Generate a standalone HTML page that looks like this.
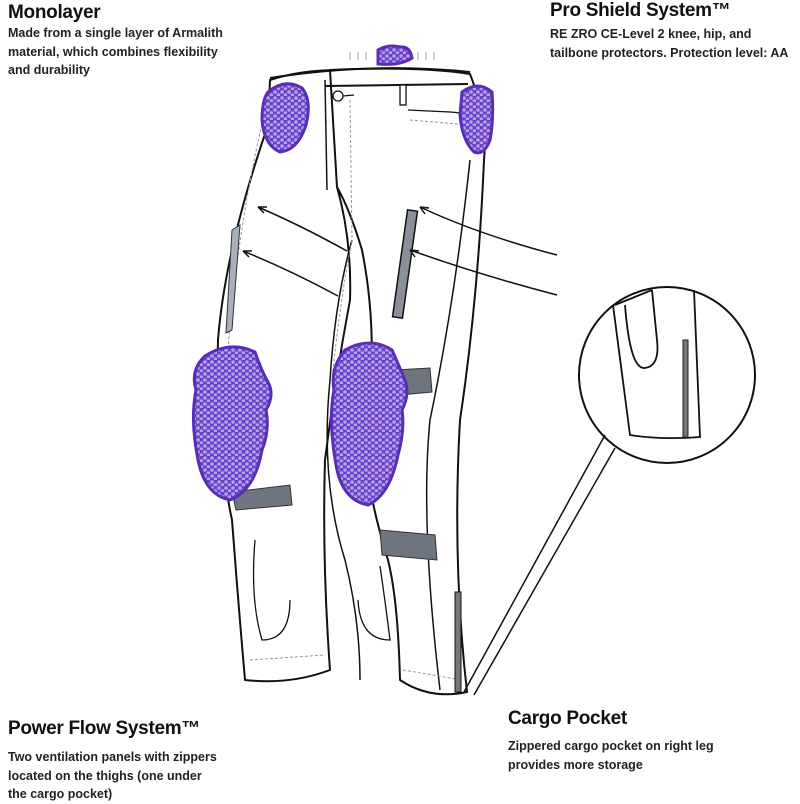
<!DOCTYPE html>
<html><head><meta charset="utf-8"><style>
body{margin:0;background:#fff;width:800px;height:800px;overflow:hidden;position:relative;font-family:"Liberation Sans",sans-serif;color:#111}
.h{position:absolute;font-weight:bold;font-size:19px;letter-spacing:-0.3px}
.p{position:absolute;font-size:12.5px;line-height:18.5px;font-weight:bold;color:#222}
svg{position:absolute;left:0;top:0}
</style></head><body>
<svg width="800" height="800" viewBox="0 0 800 800">
<defs>
<pattern id="dots" width="7" height="6" patternUnits="userSpaceOnUse">
<rect width="7" height="6" fill="#6a42c8"/>
<circle cx="2" cy="2" r="1.8" fill="#b7a2ea"/><circle cx="5.5" cy="5" r="1.8" fill="#b7a2ea"/>
</pattern>
</defs>
<g fill="#fff" stroke="#111" stroke-width="2" stroke-linejoin="round">
<path d="M270 80 Q300 70 340 70 L337 187 Q352 240 350 300 Q335 380 325 460 Q322 560 330 670 Q290 685 245 680 Q238 600 232 520 Q215 440 218 340 Q225 250 268 125 Z"/>
<path d="M330 70 Q420 66 470 74 Q488 120 484 160 Q478 300 460 420 Q452 560 467 692 Q430 700 400 680 Q398 600 388 560 Q360 470 368 420 Q378 330 362 250 Q350 210 337 187 Z"/>
<path d="M270 78 Q370 62 470 72" fill="none"/>
<path d="M325 86 L468 84" fill="none"/>
<path d="M325 80 L327 190 M352 240 Q335 300 330 380 Q320 480 345 560 Q360 620 360 680" fill="none" stroke-width="1.5"/>
<path d="M470 160 Q455 300 430 420 Q420 520 440 690" fill="none" stroke-width="1.5"/>
</g>
<g fill="none" stroke="#999" stroke-width="1" stroke-dasharray="3 2">
<path d="M350 100 L352 240 Q340 300 332 380"/>
<path d="M270 90 Q230 250 224 420"/>
<path d="M410 120 L470 125"/>
<path d="M250 660 L325 655 M403 670 L462 680"/>
</g>
<g fill="none" stroke="#111" stroke-width="1.3">
<rect x="400" y="85" width="6" height="20" fill="#fff"/>
<circle cx="338" cy="96" r="5"/><path d="M343 96 L354 95"/>
<path d="M408 110 L450 112 Q470 113 470 120"/>
<path d="M380 566 Q385 600 390 640 Q360 640 358 600"/>
<path d="M255 540 Q250 600 262 640 Q290 640 290 600"/>
</g>
<rect x="400" y="210" width="10" height="108" fill="#8a8f99" stroke="#111" stroke-width="1.5" transform="rotate(8 405 264)"/>
<path d="M232 230 L240 225 L232 330 L226 333 Z" fill="#a9b0bb" stroke="#333"/>
<g fill="#6f7580" stroke="#333">
<path d="M232 492 L290 485 L292 505 L236 510 Z"/>
<path d="M380 530 L435 535 L437 560 L382 555 Z"/>
<path d="M395 370 L430 368 L432 392 L400 395 Z"/>
</g>
<rect x="455" y="592" width="6" height="100" fill="#777" stroke="#111" stroke-width="1"/>
<g fill="none" stroke="#111" stroke-width="1.5">
<path d="M347 251 Q300 225 258 207"/><path d="M258 207 l9 0 m-9 0 l6 6"/>
<path d="M338 296 Q290 270 243 251"/><path d="M243 251 l9 0 m-9 0 l6 6"/>
<path d="M557 255 Q480 235 420 207"/><path d="M420 207 l9 1 m-9 -1 l5 7"/>
<path d="M557 295 Q480 275 410 250"/><path d="M410 250 l9 1 m-9 -1 l5 7"/>
</g>
<g fill="url(#dots)" stroke="#5a2db8" stroke-width="3">
<path d="M378 50 Q388 44 400 47 Q410 46 412 58 Q400 66 378 64 Z"/>
<path d="M268 92 Q285 78 302 88 Q312 100 306 125 Q298 150 280 152 Q264 145 262 120 Q262 100 268 92 Z"/>
<path d="M462 92 Q478 80 492 92 Q494 120 490 140 Q484 156 474 152 Q462 140 460 115 Z"/>
<path d="M205 356 Q230 340 255 352 Q262 372 268 382 Q275 395 266 410 Q270 430 262 450 Q255 490 230 500 Q205 495 198 460 Q190 420 196 390 Q190 370 205 356 Z"/>
<path d="M345 350 Q370 336 392 350 Q400 368 405 380 Q410 395 402 410 Q405 430 398 455 Q390 495 368 505 Q342 500 336 465 Q328 420 334 390 Q330 368 345 350 Z"/>
</g>
<g stroke="#9db0c8" stroke-width="1.2">
<path d="M350 60 l0 -8 M358 60 l0 -8 M366 60 l0 -8 M418 60 l0 -8 M426 60 l0 -8 M434 60 l0 -8"/>
</g>
<circle cx="667" cy="375" r="88" fill="#fff" stroke="#111" stroke-width="2"/>
<g fill="none" stroke="#111" stroke-width="1.8">
<path d="M613 305 L630 435 Q660 440 700 437 L694 290"/>
<path d="M615 305 L652 290"/>
<path d="M625 305 Q630 370 645 368 Q660 366 657 340 L652 290"/>
</g>
<rect x="683" y="340" width="5" height="97" fill="#777" stroke="#222"/>
<path d="M605 435 L464 692 M615 448 L474 695" stroke="#111" stroke-width="1.5" fill="none"/>
</svg>
<div class="h" style="left:8px;top:2px">Monolayer</div>
<div class="p" style="left:8px;top:24px">Made from a single layer of Armalith<br>material, which combines flexibility<br>and durability</div>
<div class="h" style="left:550px;top:0px">Pro Shield System™</div>
<div class="p" style="left:550px;top:25px">RE ZRO CE-Level 2 knee, hip, and<br>tailbone protectors. Protection level: AA</div>
<div class="h" style="left:8px;top:718px">Power Flow System™</div>
<div class="p" style="left:8px;top:748px">Two ventilation panels with zippers<br>located on the thighs (one under<br>the cargo pocket)</div>
<div class="h" style="left:508px;top:708px">Cargo Pocket</div>
<div class="p" style="left:508px;top:737px">Zippered cargo pocket on right leg<br>provides more storage</div>
</body></html>
